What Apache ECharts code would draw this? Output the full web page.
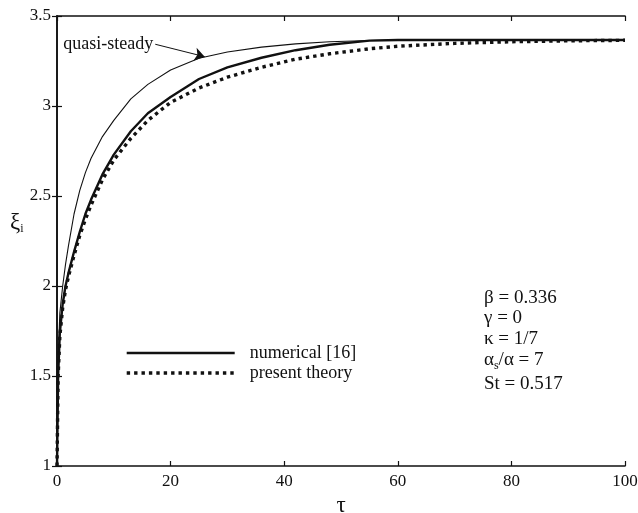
<!DOCTYPE html>
<html>
<head>
<meta charset="utf-8">
<script src="https://cdn.jsdelivr.net/npm/echarts@6/dist/echarts.min.js"></script>
<style>
  html, body { margin: 0; padding: 0; background: #fff; }
  #chart { width: 638px; height: 513px; }
</style>
</head>
<body>
<div id="chart"></div>
<script>
// Dimensionless time τ at which the three interface-position curves are sampled
const tau = [0, 0.2, 0.5, 1, 1.5, 2, 3, 4, 5, 6, 8, 10, 13, 16, 20, 25, 30, 36, 42, 48, 55, 60, 70, 80, 90, 100];

// Interface position ξ_i
const quasiSteady = [1.0, 1.6, 1.85, 2.0, 2.12, 2.22, 2.40, 2.53, 2.63, 2.71, 2.83, 2.92, 3.04, 3.12, 3.20, 3.265, 3.30, 3.327, 3.345, 3.357, 3.364, 3.367, 3.367, 3.367, 3.367, 3.367];
const numerical   = [1.0, 1.5, 1.74, 1.9, 2.0, 2.07, 2.19, 2.30, 2.40, 2.48, 2.62, 2.73, 2.86, 2.96, 3.05, 3.15, 3.215, 3.268, 3.31, 3.34, 3.363, 3.367, 3.367, 3.367, 3.367, 3.367];
const presentTheory = [1.0, 1.5, 1.72, 1.88, 1.98, 2.05, 2.17, 2.28, 2.37, 2.45, 2.59, 2.70, 2.82, 2.92, 3.02, 3.10, 3.16, 3.215, 3.26, 3.29, 3.318, 3.332, 3.348, 3.357, 3.362, 3.365];

// Axis ticks
const xTicks = { min: 0, max: 100, interval: 20 };
const yTicks = { min: 1, max: 3.5, interval: 0.5 };

// Annotation arrow for the quasi-steady curve: [τ, ξ] of label end and arrow tip
const quasiArrowFrom = [17.3, 3.343];
const quasiArrowTo = [26.0, 3.274];

// Parameter block
const paramLines = [
  'β = 0.336',
  'γ = 0',
  'κ = 1/7',
  'α{s|s}/α = 7',
  'St = 0.517'
];

const FONT = '"Liberation Serif", "DejaVu Serif", serif';
const INK = '#111';

const pairs = (ys) => tau.map((t, i) => [t, ys[i]]);

const chart = echarts.init(document.getElementById('chart'), null, { renderer: 'canvas' });

const axisCommon = {
  type: 'value',
  axisLine: { show: true, lineStyle: { color: INK, width: 1.6 } },
  axisTick: { show: true, inside: true, length: 5, lineStyle: { color: INK, width: 1.2 } },
  splitLine: { show: false }
};

const numericalStyle = { color: INK, width: 2.4 };
const theoryStyle = { color: INK, width: 3.4, type: [3.4, 4], cap: 'butt' };

const paramGraphics = paramLines.map((line, i) => ({
  type: 'text',
  left: 484,
  top: [289, 309, 330, 351, 375][i],
  style: {
    text: line,
    fill: INK,
    font: '19px ' + FONT,
    rich: {
      s: { fontSize: 12, fontFamily: FONT, fill: INK, padding: [10, 0, 0, 0] }
    }
  }
}));

chart.setOption({
  animation: false,
  backgroundColor: '#fff',
  color: [INK, INK, INK],
  grid: { left: 57, right: 13, top: 16, bottom: 47, containLabel: false, outerBoundsMode: 'none' },
  xAxis: [
    Object.assign({}, axisCommon, {
      min: xTicks.min, max: xTicks.max, interval: xTicks.interval,
      position: 'bottom',
      name: 'τ',
      nameLocation: 'middle',
      nameGap: 22,
      nameTextStyle: { fontFamily: FONT, fontSize: 23, color: INK },
      axisLabel: { fontFamily: FONT, fontSize: 17, color: INK, margin: 7 }
    }),
    Object.assign({}, axisCommon, {
      min: xTicks.min, max: xTicks.max, interval: xTicks.interval,
      position: 'top',
      axisLabel: { show: false }
    })
  ],
  yAxis: [
    Object.assign({}, axisCommon, {
      min: yTicks.min, max: yTicks.max, interval: yTicks.interval,
      position: 'left',
      axisLabel: { fontFamily: FONT, fontSize: 17, color: INK, margin: 6 }
    }),
    Object.assign({}, axisCommon, {
      min: yTicks.min, max: yTicks.max, interval: yTicks.interval,
      position: 'right',
      axisLabel: { show: false }
    })
  ],
  legend: {
    data: [
      { name: 'numerical [16]', lineStyle: numericalStyle },
      { name: 'present theory', lineStyle: theoryStyle }
    ],
    orient: 'vertical',
    left: 120,
    top: 339,
    itemWidth: 108,
    itemHeight: 14,
    itemGap: 2,
    selectedMode: false,
    itemStyle: { opacity: 0 },
    textStyle: { fontFamily: FONT, fontSize: 18, color: INK, padding: [0, 0, 0, 10] }
  },
  graphic: [
    {
      type: 'text',
      left: 10,
      top: 211,
      style: {
        text: 'ξ{sub|i}',
        fill: INK,
        font: '23px ' + FONT,
        rich: { sub: { fontSize: 12, fontFamily: FONT, fill: INK, padding: [12, 0, 0, 0] } }
      }
    }
  ].concat(paramGraphics),
  series: [
    {
      name: 'quasi-steady',
      type: 'line',
      data: pairs(quasiSteady),
      smooth: false,
      showSymbol: false,
      symbol: 'none',
      itemStyle: { color: INK },
      lineStyle: { color: INK, width: 1.1 },
      markLine: {
        silent: true,
        symbol: ['none', 'arrow'],
        symbolSize: 10,
        lineStyle: { color: INK, width: 1, type: 'solid' },
        label: {
          show: true,
          position: 'start',
          distance: 2,
          formatter: 'quasi-steady',
          fontFamily: FONT,
          fontSize: 18,
          color: INK
        },
        data: [[{ coord: quasiArrowFrom }, { coord: quasiArrowTo }]]
      }
    },
    {
      name: 'numerical [16]',
      type: 'line',
      data: pairs(numerical),
      smooth: false,
      showSymbol: false,
      symbol: 'none',
      itemStyle: { color: INK },
      lineStyle: numericalStyle
    },
    {
      name: 'present theory',
      type: 'line',
      data: pairs(presentTheory),
      smooth: false,
      showSymbol: false,
      symbol: 'none',
      itemStyle: { color: INK },
      lineStyle: theoryStyle
    }
  ]
});
</script>
</body>
</html>
